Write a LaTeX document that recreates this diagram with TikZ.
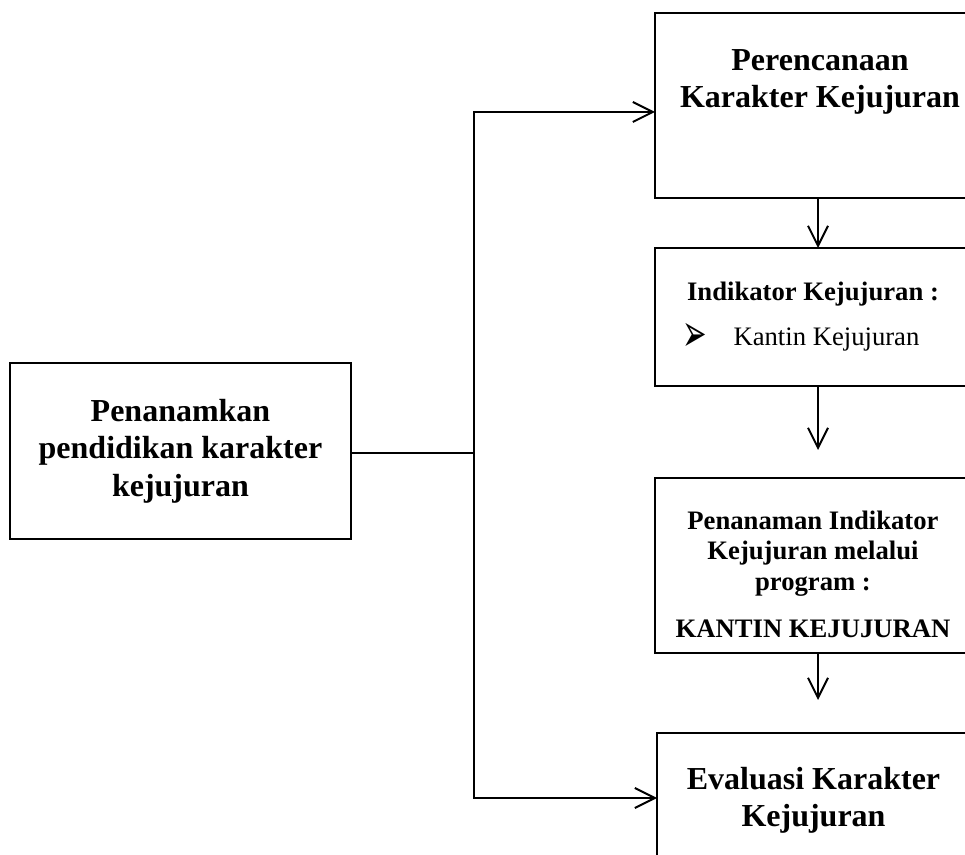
\documentclass[tikz,border=0pt]{standalone}
\usepackage{fontspec}
\setmainfont{Liberation Serif}
\newfontfamily\dingfont{DejaVu Sans}
\usetikzlibrary{arrows.meta}
\tikzset{every picture/.style={line width=0.75pt}}
\tikzset{
  box/.style={draw, line width=0.9pt, inner sep=0pt, outer sep=0pt},
  bigtxt/.style={align=center, font=\fontsize{24}{28}\selectfont\bfseries, inner sep=0pt},
  smalltxt/.style={align=center, font=\fontsize{20}{23}\selectfont\bfseries, inner sep=0pt},
  arr/.style={line width=1.5pt, -{Straight Barb[length=15pt,width=15pt]}},
  link/.style={line width=1.5pt},
}

\begin{document}
\begin{tikzpicture}[x=0.75pt,y=0.75pt,yscale=-1,xscale=1]
\useasboundingbox (0,0) rectangle (965,855);
\clip (0,0) rectangle (965,855);

%Shape: Rectangle [left box]
\node[box, bigtxt, minimum width=255.75pt, minimum height=132pt] (start) at (180.5,451) {Penanamkan\\pendidikan karakter\\kejujuran};

%Shape: Rectangle [perencanaan]
\node[box, minimum width=247.5pt, minimum height=138.75pt] (plan) at (820,105.5) {};
\node[bigtxt] (plantxt) at (820,82) {Perencanaan\\Karakter Kejujuran};

%Shape: Rectangle [indikator]
\node[box, minimum width=247.5pt, minimum height=103.5pt] (indik) at (820,317) {};
\node[smalltxt, anchor=base] (indiktxt) at (813,301) {Indikator Kejujuran :};
\node[inner sep=0pt, font=\dingfont\fontsize{22}{22}\selectfont] (bullet) at (694.5,337) {\scalebox{1}[1.8]{➢}};
\node[inner sep=0pt, anchor=base west, font=\fontsize{20}{23}\selectfont] (kantin) at (733,346) {Kantin Kejujuran};

%Shape: Rectangle [penanaman]
\node[box, minimum width=247.5pt, minimum height=131.25pt] (tanam) at (820,565.5) {};
\node[smalltxt] (tanamtxt) at (813,574) {Penanaman Indikator\\Kejujuran melalui\\program :\\[12pt]KANTIN KEJUJURAN};

%Shape: Rectangle [evaluasi]
\node[box, minimum width=246pt, minimum height=120pt] (eval) at (821,813) {};
\node[bigtxt] (evaltxt) at (813.5,800.6) {Evaluasi Karakter\\Kejujuran};

%Straight Lines
\coordinate (split) at (474,453);
\coordinate (up) at (474,112);
\coordinate (down) at (474,798);
\coordinate (gap1) at (818,450);
\coordinate (gap2) at (818,700);
\draw[link] (start.east |- split) -- (split);
\draw[arr] (split) -- (up) -- (plan.west |- up);
\draw[arr] (split) -- (down) -- (eval.west |- down);
\draw[arr] (plan.south -| gap1) -- (indik.north -| gap1);
\draw[arr] (indik.south -| gap1) -- (gap1);
\draw[arr] (tanam.south -| gap2) -- (gap2);
\end{tikzpicture}
\end{document}
